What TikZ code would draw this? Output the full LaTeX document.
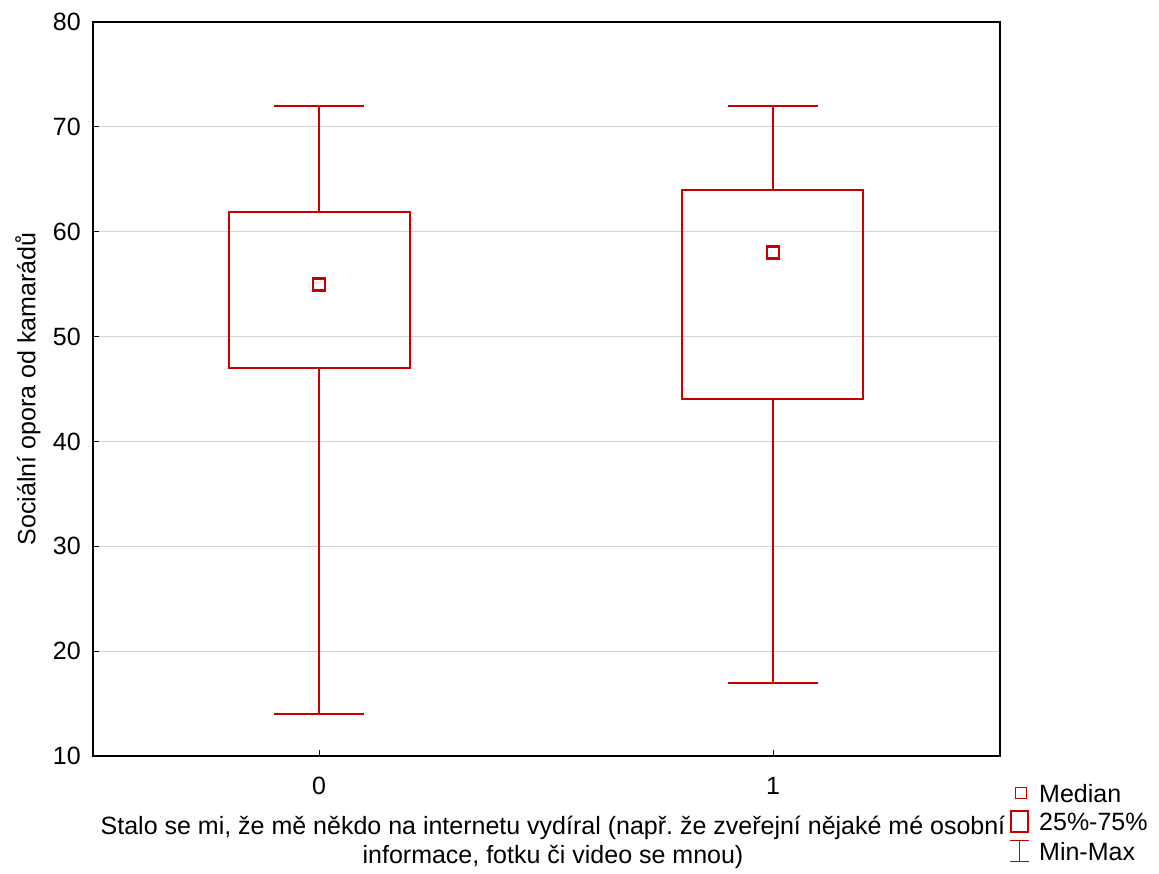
\documentclass[tikz,border=0pt]{standalone}
\usepackage{fontspec}
\setmainfont{Liberation Sans}
\frenchspacing
\definecolor{boxred}{RGB}{200,0,0}
\definecolor{gridgray}{RGB}{210,210,210}
\begin{document}
\begin{tikzpicture}[x=1pt,y=-1pt,
  lbl/.style={font=\fontsize{25}{29}\selectfont, inner sep=0pt},
  boxline/.style={draw=boxred, line width=1.6pt},
  whisk/.style={draw=boxred, line width=1.4pt},
  medmark/.style={draw=boxred, line width=2.8pt},
  gridl/.style={draw=gridgray, line width=1.2pt},
  frame/.style={draw=black, line width=1.4pt}]
\useasboundingbox (0,0) rectangle (1159,873);
% grid
\foreach \v in {20,30,40,50,60,70}{
  \draw[gridl] (93,{22+(80-\v)*10.486}) -- (1000,{22+(80-\v)*10.486});
}
% frame
\draw[frame] (93,22) rectangle (1000,756);
% y ticks and labels
\foreach \v in {10,20,...,80}{
  \draw[black,line width=1pt] (93,{22+(80-\v)*10.486}) -- (99,{22+(80-\v)*10.486});
  \node[lbl, anchor=east] (yt\v) at (81,{22+(80-\v)*10.486}) {\v};
}
% x ticks
\draw[black,line width=1pt] (319,756) -- (319,750);
\draw[black,line width=1pt] (773,756) -- (773,750);
\node[lbl] (xt0) at (319,786) {0};
\node[lbl] (xt1) at (773,786) {1};
% axis titles
\node[lbl, rotate=90] (ytitle) at (28,389) {Sociální opora od kamarádů};
\node[lbl, align=center, font=\fontsize{25}{29}\selectfont] (xtitle) at (553,842) {Stalo se mi, že mě někdo na internetu vydíral (např. že zveřejní nějaké mé osobní\\informace, fotku či video se mnou)};
% box 0
\draw[whisk] (319,106) -- (319,212);
\draw[whisk] (274,106) -- (364,106);
\draw[whisk] (319,368) -- (319,714);
\draw[whisk] (274,714) -- (364,714);
\draw[boxline] (229,212) rectangle (410,368);
\draw[medmark] (313,278.5) rectangle (325,290.5);
% box 1
\draw[whisk] (773,106) -- (773,190);
\draw[whisk] (728,106) -- (818,106);
\draw[whisk] (773,399) -- (773,683);
\draw[whisk] (728,683) -- (818,683);
\draw[boxline] (682,190) rectangle (863,399);
\draw[medmark] (767,246.5) rectangle (779,258.5);
% legend
\draw[draw=boxred, line width=1.4pt] (1015.5,787.5) rectangle (1026.5,798.5);
\node[lbl, anchor=west] (lmed) at (1039,794) {Median};
\draw[draw=boxred, line width=1.6pt] (1011,811) rectangle (1028,832);
\node[lbl, anchor=west] (lbox) at (1039,822) {25\%-75\%};
\draw[whisk] (1010,840.5) -- (1029,840.5);
\draw[whisk] (1019.5,840.5) -- (1019.5,861.5);
\draw[whisk] (1010,861.5) -- (1029,861.5);
\node[lbl, anchor=west] (lmm) at (1039,852) {Min-Max};
\end{tikzpicture}
\end{document}
